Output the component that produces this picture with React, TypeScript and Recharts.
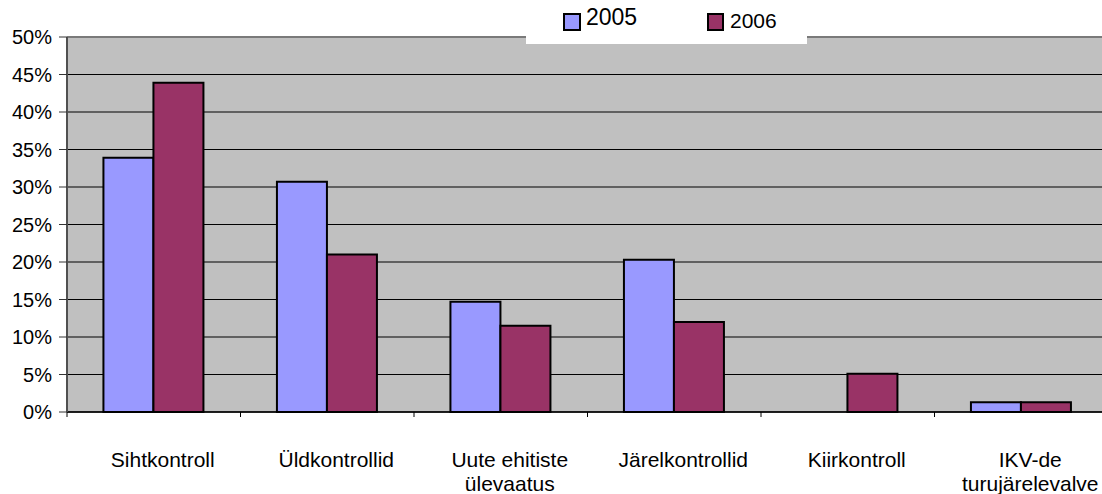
import React from 'react';
import { BarChart, Bar, XAxis, YAxis, CartesianGrid, ReferenceLine } from 'recharts';

const categories = [
  'Sihtkontroll',
  'Üldkontrollid',
  'Uute ehitiste\nülevaatus',
  'Järelkontrollid',
  'Kiirkontroll',
  'IKV-de\nturujärelevalve',
];
const values2005 = [33.9, 30.7, 14.7, 20.3, 0, 1.3];
const values2006 = [43.9, 21.0, 11.5, 12.0, 5.1, 1.3];
const yTicks = [0, 5, 10, 15, 20, 25, 30, 35, 40, 45, 50];
const seriesNames = ['2005', '2006'];

const COLOR_2005 = '#9999FF';
const COLOR_2006 = '#993366';
const FONT = '"Liberation Sans", Arial, sans-serif';

const CHART_W = 1120;
const CHART_H = 494;
const MARGIN = { top: 37, right: 12, bottom: 22, left: 7 };
const Y_AXIS_W = 60;
const X_AXIS_H = 60;
const PLOT_W = CHART_W - MARGIN.left - MARGIN.right - Y_AXIS_W;
const BAND = PLOT_W / categories.length;

const data = categories.map((c, i) => ({
  name: c,
  v2005: values2005[i],
  v2006: values2006[i],
}));

const XTick = (props: any) => {
  const { x, y, payload } = props;
  const lines = String(payload.value).split('\n');
  const bx = x - BAND / 2;
  const tx = x + 9;
  return (
    <g>
      <line x1={bx} y1={y} x2={bx} y2={y + 5} stroke="#000" strokeWidth={1} />
      <text x={tx} y={y + 55} textAnchor="middle" fontFamily={FONT} fontSize={21} fill="#000">
        {lines.map((l, i) => (
          <tspan key={i} x={tx} dy={i === 0 ? 0 : 23.5}>
            {l}
          </tspan>
        ))}
      </text>
    </g>
  );
};

const LegendBox = () => (
  <div
    style={{
      position: 'absolute',
      left: 526,
      top: 0,
      width: 281,
      height: 44,
      background: '#fff',
      fontFamily: FONT,
      color: '#000',
    }}
  >
    <div
      style={{
        position: 'absolute',
        left: 37,
        top: 13,
        width: 14,
        height: 14,
        background: COLOR_2005,
        border: '2px solid #000',
      }}
    />
    <div style={{ position: 'absolute', left: 60, top: 4, fontSize: 23, lineHeight: '27px' }}>
      {seriesNames[0]}
    </div>
    <div
      style={{
        position: 'absolute',
        left: 181,
        top: 13,
        width: 13,
        height: 14,
        background: COLOR_2006,
        border: '2px solid #000',
      }}
    />
    <div style={{ position: 'absolute', left: 204, top: 8, fontSize: 21, lineHeight: '25px' }}>
      {seriesNames[1]}
    </div>
  </div>
);

export default function App() {
  return (
    <div
      style={{
        position: 'absolute',
        left: 0,
        top: 0,
        width: 1102,
        height: 494,
        overflow: 'hidden',
        background: '#fff',
      }}
    >
      <BarChart
        width={CHART_W}
        height={CHART_H}
        data={data}
        margin={MARGIN}
        barCategoryGap="21%"
        barGap={0}
      >
        <CartesianGrid horizontal vertical={false} stroke="#000" strokeWidth={1} fill="#C0C0C0" />
        <XAxis
          dataKey="name"
          height={X_AXIS_H}
          interval={0}
          tickLine={false}
          tickSize={0}
          tickMargin={0}
          tick={<XTick />}
          axisLine={{ stroke: '#000', strokeWidth: 1.5 }}
        />
        <YAxis
          width={Y_AXIS_W}
          domain={[0, 50]}
          ticks={yTicks}
          interval={0}
          tickFormatter={(v: number) => `${v}%`}
          tickSize={8}
          tickMargin={7}
          tickLine={{ stroke: '#333' }}
          axisLine={{ stroke: '#505050', strokeWidth: 2 }}
          tick={{ fill: '#000', fontSize: 20, fontFamily: FONT }}
        />
        <ReferenceLine y={50} stroke="#7a7a7a" strokeWidth={2} />
        <Bar dataKey="v2005" name={seriesNames[0]} fill={COLOR_2005} stroke="#000" strokeWidth={2} isAnimationActive={false} />
        <Bar dataKey="v2006" name={seriesNames[1]} fill={COLOR_2006} stroke="#000" strokeWidth={2} isAnimationActive={false} />
      </BarChart>
      <LegendBox />
    </div>
  );
}
